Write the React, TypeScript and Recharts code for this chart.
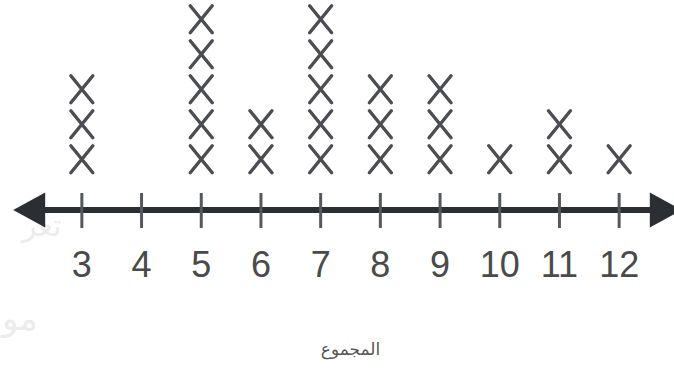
import { ReferenceLine, Scatter, ScatterChart, XAxis, YAxis, Label } from 'recharts';

// قيم المحور وعدد العلامات X فوق كل قيمة
const values = [3, 4, 5, 6, 7, 8, 9, 10, 11, 12];
const counts = [3, 0, 5, 2, 5, 3, 3, 1, 2, 1];
const axisTitle = 'المجموع';

const points = values.flatMap((v, i) =>
  Array.from({ length: counts[i] }, (_, k) => ({ value: v, level: k + 1 }))
);

const INK = '#4b4d52';

const XMark = (props: any) => {
  const { cx, cy } = props;
  if (cx == null || cy == null) return null;
  const w = 11, h = 13.5;
  return (
    <g stroke={INK} strokeWidth={3.4} strokeLinecap="round">
      <line x1={cx - w} y1={cy - h} x2={cx + w} y2={cy + h} />
      <line x1={cx + w} y1={cy - h} x2={cx - w} y2={cy + h} />
    </g>
  );
};

const Tick = (props: any) => {
  const { x, y, payload } = props;
  return (
    <g>
      <line x1={x} y1={y - 17} x2={x} y2={y + 18} stroke="#55585d" strokeWidth={3} />
      <text
        x={x}
        y={y + 67}
        textAnchor="middle"
        fontFamily="Liberation Sans Narrow, Liberation Sans, sans-serif"
        fontSize={36}
        fill="#4a4a4a"
      >
        {payload.value}
      </text>
    </g>
  );
};

const ArrowAxis = (props: any) => {
  const { x1, y1, x2, y2 } = props;
  const aw = 32, ah = 17.5;
  return (
    <g fill="#2b2e33">
      <line x1={x1 + 20} y1={y1} x2={x2 - 20} y2={y2} stroke="#2b2e33" strokeWidth={6} />
      <polygon points={`${x1},${y1} ${x1 + aw},${y1 - ah} ${x1 + aw},${y1 + ah}`} />
      <polygon points={`${x2},${y2} ${x2 - aw},${y2 - ah} ${x2 - aw},${y2 + ah}`} />
    </g>
  );
};

export default function App() {
  return (
    <div style={{ position: 'absolute', left: 0, top: 0, width: 674, height: 371, background: '#fff' }}>
      <div
        style={{
          position: 'absolute', left: 22, top: 208, fontFamily: 'DejaVu Sans', fontSize: 30,
          color: '#ececec', direction: 'rtl',
        }}
      >
        تعر
      </div>
      <div
        style={{
          position: 'absolute', left: 2, top: 298, fontFamily: 'DejaVu Sans', fontSize: 34,
          color: '#ececec', direction: 'rtl',
        }}
      >
        مو
      </div>
      <div style={{ position: 'absolute', left: 0, top: 0 }}>
        <ScatterChart width={674} height={371} margin={{ top: 0, right: 25, bottom: 6, left: 52 }}>
          <XAxis
            type="number"
            dataKey="value"
            domain={[2.5, 12.5]}
            ticks={values}
            interval={0}
            allowDataOverflow
            axisLine={false}
            tickLine={false}
            tickSize={0}
            tickMargin={0}
            height={155}
            tick={<Tick />}
          >
            <Label
              value={axisTitle}
              position="insideBottom"
              offset={10}
              style={{ fontFamily: 'DejaVu Sans', fontSize: 17, fill: '#555' }}
            />
          </XAxis>
          <YAxis type="number" dataKey="level" domain={[-0.45, 5.55]} hide />
          <ReferenceLine
            segment={[{ x: 1.85, y: -0.45 }, { x: 13.05, y: -0.45 }]}
            ifOverflow="visible"
            shape={<ArrowAxis />}
          />
          <Scatter data={points} shape={<XMark />} isAnimationActive={false} />
        </ScatterChart>
      </div>
    </div>
  );
}
